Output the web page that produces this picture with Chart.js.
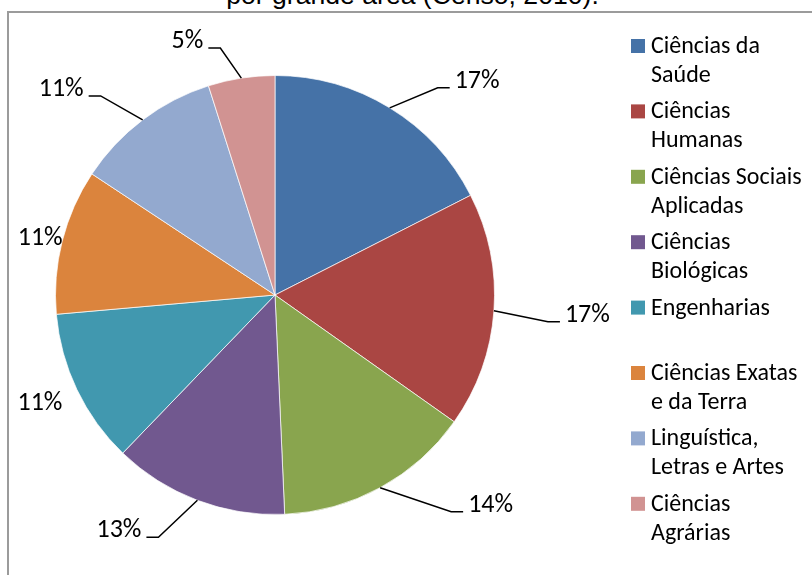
<!DOCTYPE html>
<html>
<head>
<meta charset="utf-8">
<script src="https://cdn.jsdelivr.net/npm/chart.js@4.4.1/dist/chart.umd.min.js"></script>
<style>
  html, body { margin: 0; padding: 0; background: #fff; overflow: hidden; }
  #wrap { position: relative; width: 812px; height: 575px; overflow: hidden; }
  #title {
    position: absolute; left: 0; width: 825px; top: -20px;
    text-align: center; white-space: nowrap; color: #000;
    font: 26.6px "Liberation Sans", Arial, sans-serif;
  }
  #frame { position: absolute; left: 7px; top: 11px; width: 900px; height: 700px; border: 2px solid #9b9b9b; }
  #chart { position: absolute; left: 0; top: 0; }
</style>
</head>
<body>
<div id="wrap">
  <div id="title">por grande área (Censo, 2010).</div>
  <div id="frame"></div>
  <canvas id="chart" width="812" height="575"></canvas>
</div>
<script>
// dados do gráfico
const categories = [
  'Ciências da Saúde',
  'Ciências Humanas',
  'Ciências Sociais Aplicadas',
  'Ciências Biológicas',
  'Engenharias',
  'Ciências Exatas e da Terra',
  'Linguística, Letras e Artes',
  'Ciências Agrárias'
];
const shares = [17.5, 17.3, 14.5, 12.9, 11.4, 10.7, 10.8, 4.9];
const percentLabels = ['17%', '17%', '14%', '13%', '11%', '11%', '11%', '5%'];
const colors = ['#4572a7', '#aa4643', '#89a54e', '#71588f', '#4198af', '#db843d', '#93a9cf', '#d19392'];

// posição dos rótulos (cotovelo da linha de chamada relativo à borda da fatia)
const labelPlacement = [
  { dx: 48, dy: -20, leader: true },
  { dx: 54, dy: 11, leader: true },
  { dx: 71, dy: 24, leader: true },
  { dx: -39, dy: 37, leader: true },
  { dx: -37, dy: 20, leader: false },
  { dx: -22, dy: 4, leader: false },
  { dx: -42, dy: -24, leader: true },
  { dx: -21, dy: -30, leader: true }
];

const FONT = 'Carlito, Lato, "Open Sans", sans-serif';

const pieLabels = {
  id: 'pieLabels',
  afterDatasetsDraw(chart) {
    const ctx = chart.ctx;
    const meta = chart.getDatasetMeta(0);
    ctx.save();
    ctx.font = '26px ' + FONT;
    ctx.fillStyle = '#000';
    ctx.strokeStyle = '#000';
    ctx.lineWidth = 1.5;
    ctx.textBaseline = 'alphabetic';
    meta.data.forEach((arc, i) => {
      const p = arc.getProps(['x', 'y', 'startAngle', 'endAngle', 'outerRadius'], true);
      const mid = (p.startAngle + p.endAngle) / 2;
      const ax = p.x + p.outerRadius * Math.cos(mid);
      const ay = p.y + p.outerRadius * Math.sin(mid);
      const pl = labelPlacement[i];
      const ex = ax + pl.dx;
      const ey = ay + pl.dy;
      if (!pl.leader) {
        ctx.textAlign = 'center';
        ctx.fillText(percentLabels[i], ex, ey);
        return;
      }
      const dir = pl.dx > 0 ? 1 : -1;
      const hx = ex + dir * 12;
      ctx.beginPath();
      ctx.moveTo(ax, ay);
      ctx.lineTo(ex, ey);
      ctx.lineTo(hx, ey);
      ctx.stroke();
      ctx.textAlign = dir > 0 ? 'left' : 'right';
      ctx.fillText(percentLabels[i], hx + dir * 5, ey);
    });
    ctx.restore();
  }
};

// legenda com quebra de linha
const wrappedLegend = {
  id: 'wrappedLegend',
  afterDraw(chart, args, opts) {
    const ctx = chart.ctx;
    ctx.save();
    ctx.font = opts.fontSize + 'px ' + FONT;
    ctx.textBaseline = 'alphabetic';
    ctx.textAlign = 'left';
    chart.data.labels.forEach((label, i) => {
      const top = opts.top + i * opts.itemGap;
      ctx.fillStyle = chart.data.datasets[0].backgroundColor[i];
      ctx.fillRect(opts.x, top, opts.box, opts.box);
      // quebra do texto
      const words = label.split(' ');
      const lines = [];
      let cur = '';
      for (const w of words) {
        const test = cur ? cur + ' ' + w : w;
        if (cur && ctx.measureText(test).width > opts.maxWidth) {
          lines.push(cur);
          cur = w;
        } else {
          cur = test;
        }
      }
      if (cur) lines.push(cur);
      ctx.fillStyle = '#000';
      lines.forEach((ln, k) => {
        ctx.fillText(ln, opts.textX, top + opts.box + k * opts.lineGap);
      });
    });
    ctx.restore();
  }
};

new Chart(document.getElementById('chart'), {
  type: 'pie',
  data: {
    labels: categories,
    datasets: [{
      data: shares,
      backgroundColor: colors,
      borderColor: 'rgba(255,255,255,0.7)',
      borderWidth: 1
    }]
  },
  plugins: [pieLabels, wrappedLegend],
  options: {
    responsive: false,
    animation: false,
    layout: { padding: { left: 55, right: 317, top: 75, bottom: 60 } },
    plugins: {
      legend: { display: false },
      tooltip: { enabled: false },
      wrappedLegend: {
        x: 631, textX: 651, top: 39, box: 14, itemGap: 65.4,
        lineGap: 29, fontSize: 24, maxWidth: 156
      }
    }
  }
});
</script>
</body>
</html>
